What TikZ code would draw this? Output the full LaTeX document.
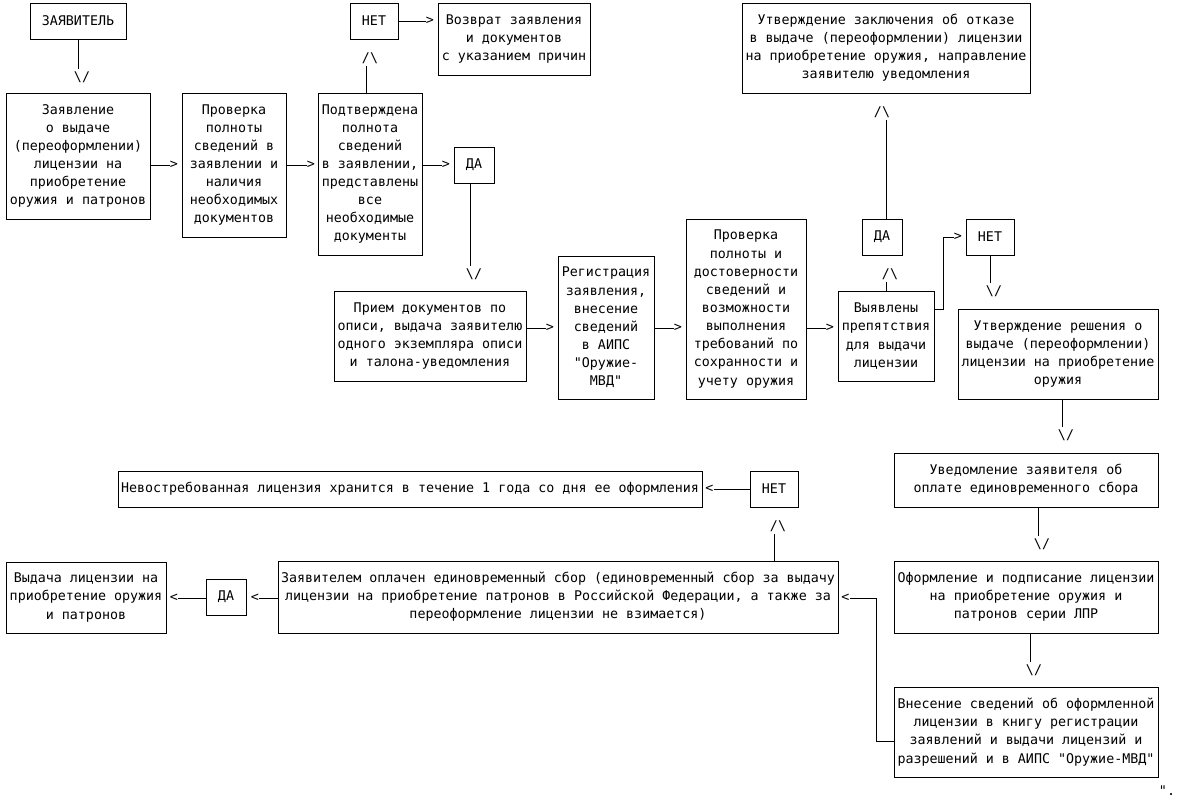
\documentclass[tikz,border=0pt]{standalone}
\usepackage{fontspec}
\newfontfamily\mono{DejaVu Sans Mono}
\tikzset{
  box/.style={draw, align=center, inner sep=0pt, font=\mono\fontsize{10}{13.6}\selectfont},
  sz/.style 2 args={minimum width=#1*0.75pt, minimum height=#2*0.75pt},
  tip/.style={inner sep=0pt, outer sep=0pt, font=\mono\fontsize{10}{13.6}\selectfont},
  tipv/.style={tip, outer sep=2pt}
}
\begin{document}
\begin{tikzpicture}[x=0.75pt, y=-0.75pt, line width=.75pt]
\fill[white] (0,0) rectangle (1179,807);
% top row
\node[box, sz={96}{36}] (zayav) at (78,21) {ЗАЯВИТЕЛЬ};
\node[box, sz={144}{126}] (zayavl) at (78,156) {Заявление\\о выдаче\\(переоформлении)\\лицензии на\\приобретение\\оружия и патронов};
\node[box, sz={104}{144}] (prov1) at (234,165) {Проверка\\полноты\\сведений в\\заявлении и\\наличия\\необходимых\\документов};
\node[box, sz={104}{162}] (podtv) at (370,174) {Подтверждена\\полнота\\сведений\\в заявлении,\\представлены\\все\\необходимые\\документы};
\node[box, sz={48}{36}] (net1) at (374,21) {НЕТ};
\node[box, sz={152}{72}] (vozvr) at (514,39) {Возврат заявления\\и документов\\с указанием причин};
\node[box, sz={40}{36}] (da1) at (474,165) {ДА};
\node[box, sz={288}{90}] (otkaz) at (886,48) {Утверждение заключения об отказе\\в выдаче (переоформлении) лицензии\\на приобретение оружия, направление\\заявителю уведомления};
% middle row
\node[box, sz={192}{90}] (priem) at (430,336) {Прием документов по\\описи, выдача заявителю\\одного экземпляра описи\\и талона-уведомления};
\node[box, sz={96}{143}] (reg) at (606,327.5) {Регистрация\\заявления,\\внесение\\сведений\\в АИПС\\"Оружие-\\МВД"};
\node[box, sz={120}{180}] (prov2) at (746,309) {Проверка\\полноты и\\достоверности\\сведений и\\возможности\\выполнения\\требований по\\сохранности и\\учету оружия};
\node[box, sz={96}{90}] (vyyav) at (886,336) {Выявлены\\препятствия\\для выдачи\\лицензии};
\node[box, sz={40}{36}] (da2) at (882,237) {ДА};
\node[box, sz={48}{36}] (net2) at (990,237) {НЕТ};
\node[box, sz={200}{90}] (resh) at (1058,354) {Утверждение решения о\\выдаче (переоформлении)\\лицензии на приобретение\\оружия};
% right column and bottom row
\node[box, sz={264}{54}] (uved) at (1026,480) {Уведомление заявителя об\\оплате единовременного сбора};
\node[box, sz={264}{72}] (oform) at (1026,597) {Оформление и подписание лицензии\\на приобретение оружия и\\патронов серии ЛПР};
\node[box, sz={264}{90}] (vnes) at (1026,732) {Внесение сведений об оформленной\\лицензии в книгу регистрации\\заявлений и выдачи лицензий и\\разрешений и в АИПС "Оружие-МВД"};
\node[box, sz={560}{72}] (oplach) at (558,597) {Заявителем оплачен единовременный сбор (единовременный сбор за выдачу\\лицензии на приобретение патронов в Российской Федерации, а также за\\переоформление лицензии не взимается)};
\node[box, sz={48}{36}] (net3) at (774,489) {НЕТ};
\node[box, sz={584}{36}] (nevostr) at (410,489) {Невостребованная лицензия хранится в течение 1 года со дня ее оформления};
\node[box, sz={40}{36}] (da3) at (226,597) {ДА};
\node[box, sz={160}{71}] (vydacha) at (86,597.5) {Выдача лицензии на\\приобретение оружия\\и патронов};
\node[tip] (qt) at (1167,791) {".};
% tips
\node[tipv] (t1) at (82,77) {\textbackslash/};
\node[tipv] (t2) at (370,58) {/\textbackslash};
\node[tipv] (t3) at (474,274) {\textbackslash/};
\node[tipv] (t4) at (890,274) {/\textbackslash};
\node[tipv] (t5) at (882,112) {/\textbackslash};
\node[tipv] (t6) at (994,291) {\textbackslash/};
\node[tipv] (t7) at (1066,435) {\textbackslash/};
\node[tipv] (t8) at (1042,544) {\textbackslash/};
\node[tipv] (t9) at (1034,670) {\textbackslash/};
\node[tipv] (t10) at (778,526) {/\textbackslash};
\node[tip] (h1) at (174,165) {>};
\node[tip] (h2) at (311,165) {>};
\node[tip] (h3) at (446,165) {>};
\node[tip] (h4) at (430,21) {>};
\node[tip] (h5) at (550,328) {>};
\node[tip] (h6) at (678,328) {>};
\node[tip] (h7) at (830,328) {>};
\node[tip] (h8) at (958,237) {>};
\node[tip] (h9) at (845.5,598) {<};
\node[tip] (h10) at (709.5,489) {<};
\node[tip] (h11) at (255,598) {<};
\node[tip] (h12) at (174,598) {<};
% connectors
\draw (t1.north) ++(-4,0) coordinate (l1) -- (l1 |- zayav.south);
\draw (t2.south) ++(-4,0) coordinate (l2) -- (l2 |- podtv.north);
\draw (t3.north) ++(-4,0) coordinate (l3) -- (l3 |- da1.south);
\draw (t4.south) ++(-4,0) coordinate (l4) -- (l4 |- vyyav.north);
\draw (t5.south) ++(4,0) coordinate (l5) -- (l5 |- da2.north);
\draw (t6.north) ++(-4,0) coordinate (l6) -- (l6 |- net2.south);
\draw (t7.north) ++(-4,0) coordinate (l7) -- (l7 |- resh.south);
\draw (t8.north) ++(-4,0) coordinate (l8) -- (l8 |- uved.south);
\draw (t9.north) ++(-4,0) coordinate (l9) -- (l9 |- oform.south);
\draw (t10.south) ++(-4,0) coordinate (l10) -- (l10 |- oplach.north);
\draw (zayavl.east |- h1) -- (h1);
\draw (prov1.east |- h2) -- (h2);
\draw (podtv.east |- h3) -- (h3);
\draw (net1) -- (h4);
\draw (priem.east |- h5) -- (h5);
\draw (reg.east |- h6) -- (h6);
\draw (prov2.east |- h7) -- (h7);
\draw (vyyav.east) ++(0,-27) -- ++(9,0) |- (h8);
\draw (vnes.west) ++(0,9) -- ++(-17,0) |- (h9);
\draw (net3) -- (h10);
\draw (oplach.west |- h11) -- (h11);
\draw (da3.west |- h12) -- (h12);
\end{tikzpicture}
\end{document}
